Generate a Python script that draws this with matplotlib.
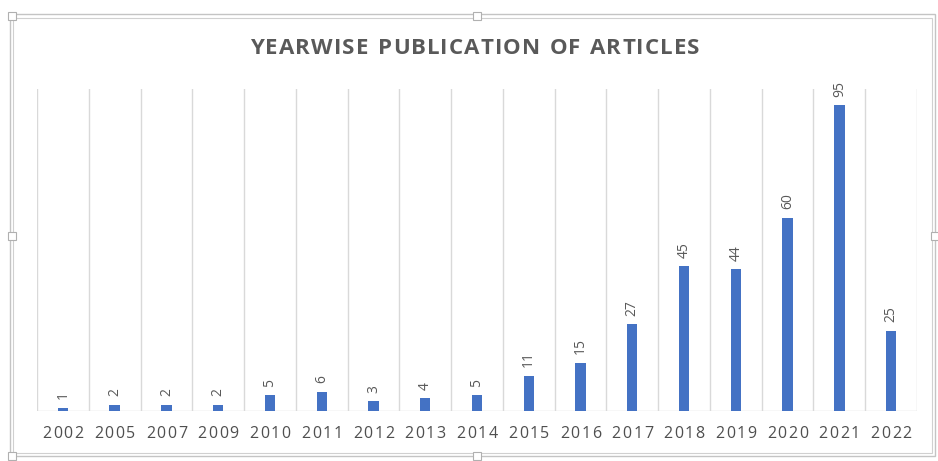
import matplotlib
matplotlib.use('Agg')
import matplotlib.pyplot as plt
from matplotlib.patches import Rectangle

years = ['2002', '2005', '2007', '2009', '2010', '2011', '2012', '2013', '2014',
         '2015', '2016', '2017', '2018', '2019', '2020', '2021', '2022']
articles = [1, 2, 2, 2, 5, 6, 3, 4, 5, 11, 15, 27, 45, 44, 60, 95, 25]

BAR = '#4472C4'
TXT = '#595959'
GRID = '#D9D9D9'
W, H = 938, 461

plt.rcParams['font.family'] = ['Open Sans', 'DejaVu Sans']

fig = plt.figure(figsize=(W / 100, H / 100), dpi=100)
fig.patch.set_facecolor('white')
renderer = fig.canvas.get_renderer()


def px_rect(x0, y0, x1, y1, **kw):
    # rectangle in pixel coords (origin top-left)
    return Rectangle((x0 / W, 1 - y1 / H), (x1 - x0) / W, (y1 - y0) / H,
                     transform=fig.transFigure, **kw)


def tracked_text(s, cx, cy, track, **kw):
    # centred text with extra letter spacing, cx/cy in pixels from top-left
    widths = []
    for ch in s:
        t = fig.text(0, 0, ch if ch != ' ' else 'n', **kw)
        w = t.get_window_extent(renderer).width
        if ch == ' ':
            w *= 0.5
        widths.append(w)
        t.remove()
    total = sum(widths) + track * (len(s) - 1)
    x = cx - total / 2
    for ch, w in zip(s, widths):
        if ch != ' ':
            fig.text(x / W, 1 - cy / H, ch, ha='left', va='center', **kw)
        x += w + track


# outer frame, double gray line like the screenshot
fig.add_artist(px_rect(10, 14, 935, 456, fill=False, edgecolor='#C4C4C4', linewidth=1.0))
fig.add_artist(px_rect(13, 18, 932, 453, fill=False, edgecolor='#D0D0D0', linewidth=0.8))
# selection handles
for hx, hy in [(12, 16), (477, 16), (12, 236), (12, 456), (477, 456), (935, 236)]:
    fig.add_artist(px_rect(hx - 4, hy - 4, hx + 4, hy + 4, facecolor='white',
                           edgecolor='#B0B0B0', linewidth=0.8, zorder=5))

left, right, top, base = 37, 917, 89, 411
ax = fig.add_axes([left / W, 1 - base / H, (right - left) / W, (base - top) / H])
x = list(range(len(years)))
bars = ax.bar(x, articles, width=0.2, color=BAR, zorder=3)

ax.set_xlim(-0.5, len(years) - 0.5)
ax.set_ylim(0, 100)

# vertical gridlines at category boundaries
for b in range(len(years) + 1):
    ax.axvline(b - 0.5, color=GRID, linewidth=1, zorder=1)
ax.axhline(0, color=GRID, linewidth=1, zorder=2)

for rect, v in zip(bars, articles):
    ax.annotate(str(v), (rect.get_x() + rect.get_width() / 2, v),
                xytext=(0, 6), textcoords='offset points',
                rotation=90, ha='center', va='bottom',
                fontsize=10, color=TXT)

ax.set_xticks([])
ax.set_yticks([])
for s in ax.spines.values():
    s.set_visible(False)

# category labels, letter-spaced
slot = (right - left) / len(years)
for i, yr in enumerate(years):
    tracked_text(yr, left + (i + 0.5) * slot, 434, 1.6,
                 fontsize=11.5, color='#4F4F4F')

tracked_text('YEARWISE PUBLICATION OF ARTICLES', 475, 48, 1.1,
             fontsize=16, fontweight='bold', color=TXT)

fig.savefig('out.png', dpi=100)
